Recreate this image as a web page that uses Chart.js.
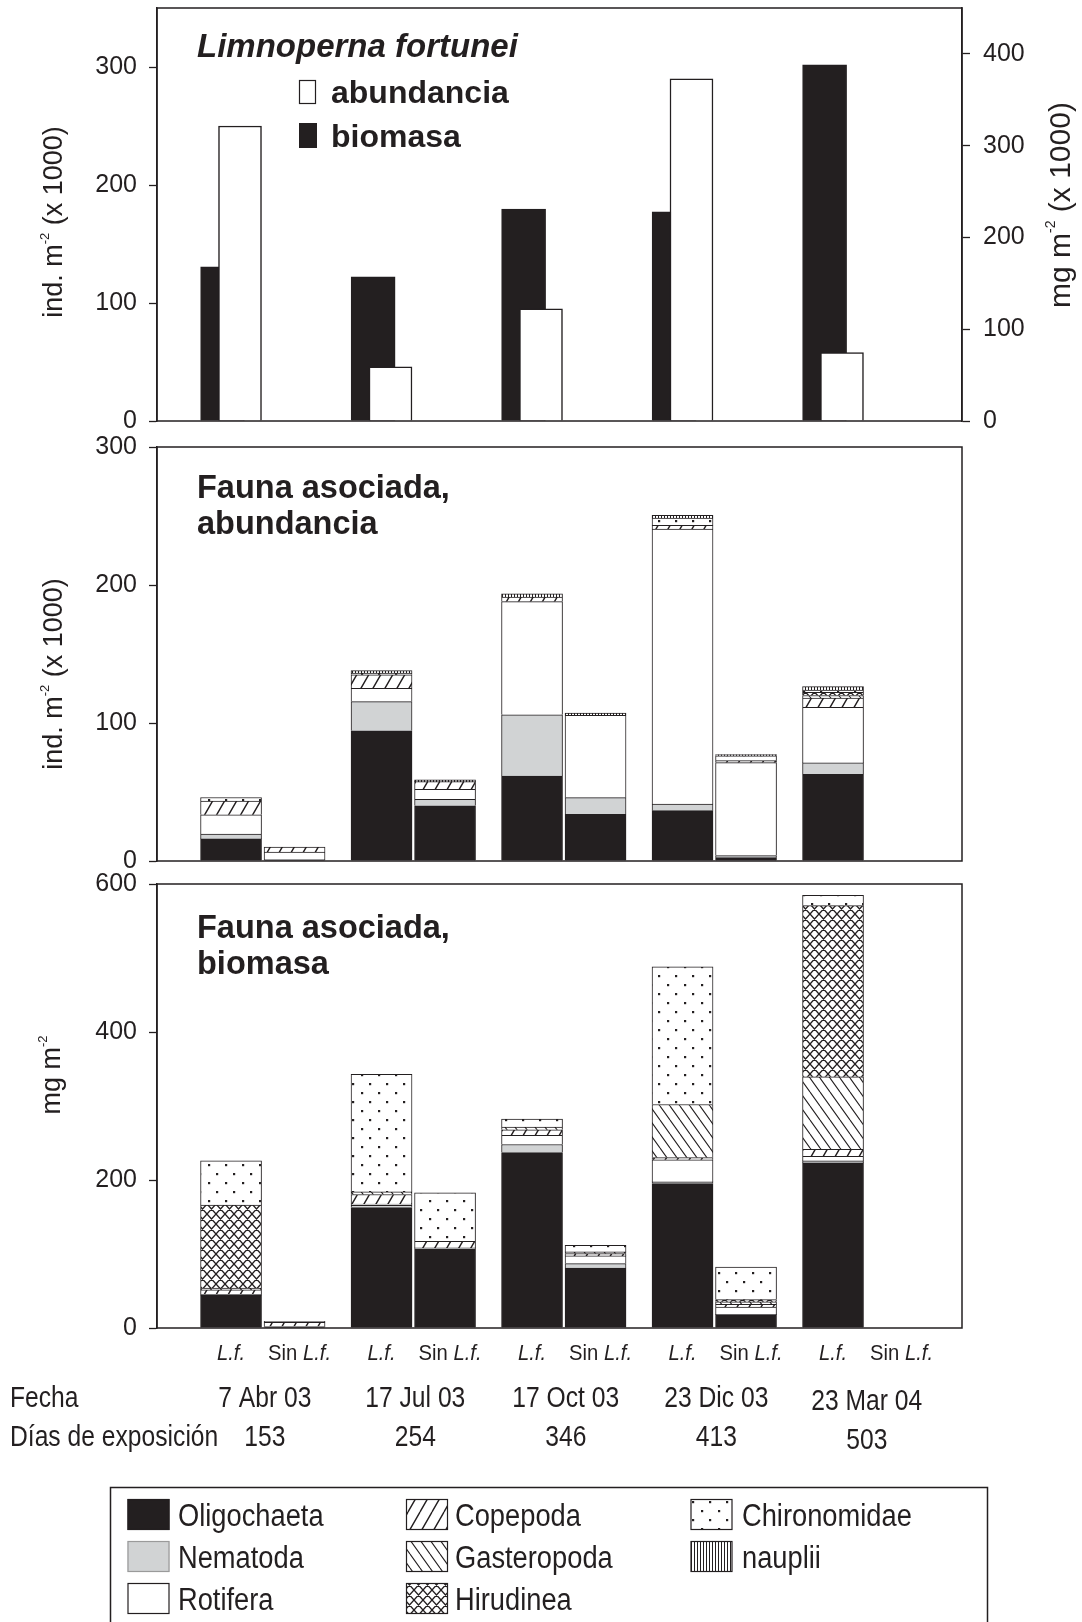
<!DOCTYPE html>
<html>
<head>
<meta charset="utf-8">
<script src="https://cdn.jsdelivr.net/npm/chart.js@4.4.1/dist/chart.umd.min.js"></script>
<style>
  html, body { margin: 0; padding: 0; background: #fff; }
  #wrap { position: relative; width: 1082px; height: 1622px; overflow: hidden; background: #fff; }
  #wrap canvas { position: absolute; left: 0; }
</style>
</head>
<body>
<div id="wrap">
  <canvas id="c1" width="1082" height="473" style="top:-22px;width:1082px;height:473px"></canvas>
  <canvas id="c2" width="1082" height="474" style="top:417px;width:1082px;height:474px"></canvas>
  <canvas id="c3" width="1082" height="616" style="top:854px;width:1082px;height:616px"></canvas>
  <canvas id="leg" width="1082" height="152" style="top:1470px;width:1082px;height:152px"></canvas>
</div>
<script>
// ---------------- DATA ----------------
const dates = ['7 Abr 03', '17 Jul 03', '17 Oct 03', '23 Dic 03', '23 Mar 04'];
const exposureDays = ['153', '254', '346', '413', '503'];
const treatments = ['L.f.', 'Sin L.f.'];

// Panel 1: Limnoperna fortunei
const limnoAbundance = [250, 46, 95, 290, 58];      // ind. m-2 (x 1000), left axis
const limnoBiomass   = [168, 157, 231, 228, 388];   // mg m-2 (x 1000), right axis

// Panel 2: fauna asociada, abundancia (ind. m-2 x 1000); order: L.f., Sin L.f. per date
const abOligochaeta   = [16, 0.7, 94.3, 40, 61.6, 33.8, 36.5, 2.4, 62.8, 0];
const abNematoda      = [3.5, 0.5, 21.2, 4.7, 44.3, 12.1, 4.8, 1.5, 8.3, 0];
const abRotifera      = [14, 5.3, 9.7, 7.3, 82.1, 59.7, 199.2, 67.4, 40.3, 0];
const abCopepoda      = [10, 3.5, 9.7, 5.5, 3.2, 0, 2.7, 1.4, 6.6, 0];
const abGasteropoda   = [0, 0, 0, 0, 0, 0, 0, 0, 1.9, 0];
const abHirudinea     = [0, 0, 0, 0, 0, 0, 0, 0, 2.4, 0];
const abChironomidae  = [2.5, 0, 1.2, 0, 0, 0, 5.3, 3.6, 1.5, 0];
const abNauplii       = [0, 0, 1.9, 1.3, 2.4, 1.5, 1.9, 0.8, 2.6, 0];

// Panel 3: fauna asociada, biomasa (mg m-2)
const bmOligochaeta   = [44, 1, 162.7, 106.4, 237, 81, 195.2, 18, 223.1, 0];
const bmNematoda      = [1.5, 0.5, 3.2, 1.8, 11, 6, 2.2, 0.4, 2.7, 0];
const bmRotifera      = [0, 0.5, 1.5, 0, 12.5, 10.4, 29.8, 10, 6.3, 0];
const bmCopepoda      = [6, 5.5, 13, 9, 7.3, 3.2, 3.1, 3.5, 9.5, 0];
const bmGasteropoda   = [2.5, 0, 3.5, 0, 3.6, 2.2, 71.7, 3.5, 97.8, 0];
const bmHirudinea     = [112, 0, 0, 0, 0, 0, 0, 3, 231.3, 0];
const bmChironomidae  = [60, 1.5, 159, 65.4, 10.8, 9, 186.2, 44, 13.9, 0];
const bmNauplii       = [0, 0, 0, 0, 0, 0, 0, 0, 0, 0];

const taxa = ['Oligochaeta', 'Nematoda', 'Rotifera', 'Copepoda', 'Gasteropoda', 'Hirudinea', 'Chironomidae', 'nauplii'];
const abundanceSeries = [abOligochaeta, abNematoda, abRotifera, abCopepoda, abGasteropoda, abHirudinea, abChironomidae, abNauplii];
const biomassSeries   = [bmOligochaeta, bmNematoda, bmRotifera, bmCopepoda, bmGasteropoda, bmHirudinea, bmChironomidae, bmNauplii];

// ---------------- STYLE / LAYOUT ----------------
const DARK = '#231f20';
const GRAY = '#d1d3d4';
const FONT = "'Liberation Sans', Arial, Helvetica, sans-serif";
const X_MIN = -0.703, X_MAX = 4.646;
const LF_OFF = -0.211, SIN_OFF = 0.211;
const BIO_OFF = -0.267, ABU_OFF = -0.1515;
const PAD = 30;
const slotX = (i) => Math.floor(i / 2) + (i % 2 === 0 ? LF_OFF : SIN_OFF);

// patterns
function tile(w, h, draw) {
  const c = document.createElement('canvas');
  c.width = w; c.height = h;
  const g = c.getContext('2d');
  g.fillStyle = '#fff'; g.fillRect(0, 0, w, h);
  g.strokeStyle = DARK; g.fillStyle = DARK;
  draw(g, w, h);
  return g.createPattern(c, 'repeat');
}
const patCopepoda = tile(12, 21, (g, w, h) => {
  g.lineWidth = 1.4; g.beginPath();
  for (const ox of [-w, 0, w]) { g.moveTo(ox, h); g.lineTo(ox + w, 0); }
  g.stroke();
});
const patGasteropoda = tile(10, 14, (g, w, h) => {
  g.lineWidth = 1.1; g.beginPath();
  for (const ox of [-w, 0, w]) { g.moveTo(ox, 0); g.lineTo(ox + w, h); }
  g.stroke();
});
const patHirudinea = tile(9, 10, (g, w, h) => {
  g.lineWidth = 1.35; g.beginPath();
  for (const ox of [-w, 0, w]) { g.moveTo(ox, 0); g.lineTo(ox + w, h); g.moveTo(ox, h); g.lineTo(ox + w, 0); }
  g.stroke();
});
const patChironomidae = tile(17, 18, (g) => {
  g.fillRect(4, 4, 2.2, 2.2); g.fillRect(12, 13, 2.2, 2.2);
});
const patNauplii = tile(3, 3, (g) => { g.fillRect(1, 0, 1, 3); });

const taxonFill = [DARK, GRAY, '#ffffff', patCopepoda, patGasteropoda, patHirudinea, patChironomidae, patNauplii];

// text helpers
function richText(ctx, parts, x, y, opts = {}) {
  const { rot = 0, align = 'left', sx = 1, baseline = 'alphabetic', color = DARK } = opts;
  ctx.save();
  ctx.translate(x, y);
  if (rot) ctx.rotate(rot);
  ctx.scale(sx, 1);
  ctx.textBaseline = baseline; ctx.textAlign = 'left'; ctx.fillStyle = color;
  let total = 0;
  parts.forEach(p => { ctx.font = p.font; p.w = ctx.measureText(p.t).width; total += p.w; });
  let cx = align === 'center' ? -total / 2 : (align === 'right' ? -total : 0);
  parts.forEach(p => { ctx.font = p.font; ctx.fillText(p.t, cx, p.dy || 0); cx += p.w; });
  ctx.restore();
}
const f = (size, style = '') => `${style} ${size}px ${FONT}`.trim();

function axisTitle(ctx, main, rest, cx, cy, size = 27) {
  richText(ctx, [
    { t: main, font: f(size) },
    { t: '-2', font: f(Math.round(size * 0.48)), dy: -size * 0.37 },
    { t: rest, font: f(size) }
  ], cx, cy, { rot: -Math.PI / 2, align: 'center', baseline: 'middle' });
}

function frame(chart) {
  const { ctx, chartArea: a } = chart;
  ctx.save();
  ctx.strokeStyle = DARK; ctx.lineWidth = 1.5;
  ctx.strokeRect(a.left, a.top, a.right - a.left, a.bottom - a.top);
  ctx.restore();
}

function yAxis(position, max, step, width) {
  return {
    position, min: 0, max,
    ticks: { stepSize: step, includeBounds: false, color: DARK, font: { family: FONT, size: 25 }, padding: position === 'left' ? 12 : 13 },
    grid: { drawOnChartArea: false, drawTicks: true, tickLength: 8, tickColor: DARK, tickWidth: 1.3, color: DARK },
    border: { display: true, color: DARK, width: 1.5 },
    afterFit: (s) => { s.width = width; }
  };
}
const xAxis = (stacked) => ({ type: 'linear', min: X_MIN, max: X_MAX, display: false, offset: false, stacked });

// ---------------- PANEL 1 ----------------
const TOP1 = -22;
new Chart(document.getElementById('c1'), {
  type: 'bar',
  data: {
    datasets: [
      { label: 'abundancia', yAxisID: 'y', data: limnoAbundance.map((v, i) => ({ x: i + ABU_OFF, y: v })),
        backgroundColor: '#ffffff', borderColor: DARK, borderWidth: 1.5, barThickness: 43, grouped: false },
      { label: 'biomasa', yAxisID: 'y1', data: limnoBiomass.map((v, i) => ({ x: i + BIO_OFF, y: v })),
        backgroundColor: DARK, borderColor: DARK, borderWidth: 1, barThickness: 44, grouped: false }
    ]
  },
  options: {
    responsive: false, animation: false, devicePixelRatio: 1,
    layout: { padding: { top: PAD, bottom: PAD, left: 0, right: 0 } },
    plugins: { legend: { display: false }, tooltip: { enabled: false } },
    scales: { x: xAxis(false), y: yAxis('left', 350, 100, 157), y1: yAxis('right', 450, 100, 120) }
  },
  plugins: [{
    id: 'deco1',
    afterDraw(chart) {
      const ctx = chart.ctx, o = -TOP1;
      frame(chart);
      richText(ctx, [{ t: 'Limnoperna fortunei', font: f(33, 'italic bold') }], 197, 57 + o);
      ctx.save();
      ctx.lineWidth = 1.2; ctx.strokeStyle = DARK;
      ctx.fillStyle = '#fff'; ctx.fillRect(299, 80 + o, 17, 24); ctx.strokeRect(299.5, 80.5 + o, 16, 23);
      ctx.fillStyle = DARK; ctx.fillRect(299, 123 + o, 18, 25);
      ctx.restore();
      richText(ctx, [{ t: 'abundancia', font: f(32, 'bold') }], 331, 103 + o);
      richText(ctx, [{ t: 'biomasa', font: f(32, 'bold') }], 331, 147 + o);
      axisTitle(ctx, 'ind. m', ' (x 1000)', 55, 222 + o);
      axisTitle(ctx, 'mg m', ' (x 1000)', 1062, 205 + o, 30);
    }
  }]
});

// ---------------- PANELS 2 & 3 ----------------
function stackedDatasets(series) {
  return series.map((vals, k) => ({
    label: taxa[k],
    data: vals.map((v, i) => ({ x: slotX(i), y: v })),
    backgroundColor: taxonFill[k],
    borderColor: DARK,
    borderWidth: 1,
    barThickness: 61
  }));
}

const TOP2 = 417;
new Chart(document.getElementById('c2'), {
  type: 'bar',
  data: { datasets: stackedDatasets(abundanceSeries) },
  options: {
    responsive: false, animation: false, devicePixelRatio: 1,
    layout: { padding: { top: PAD, bottom: PAD, left: 0, right: 120 } },
    plugins: { legend: { display: false }, tooltip: { enabled: false } },
    scales: { x: xAxis(true), y: Object.assign(yAxis('left', 300, 100, 157), { stacked: true }) }
  },
  plugins: [{
    id: 'deco2',
    afterDraw(chart) {
      const ctx = chart.ctx, o = -TOP2;
      frame(chart);
      richText(ctx, [{ t: 'Fauna asociada,', font: f(32.5, 'bold') }], 197, 498 + o);
      richText(ctx, [{ t: 'abundancia', font: f(32.5, 'bold') }], 197, 534 + o);
      axisTitle(ctx, 'ind. m', ' (x 1000)', 55, 674 + o);
    }
  }]
});

const TOP3 = 854;
new Chart(document.getElementById('c3'), {
  type: 'bar',
  data: { datasets: stackedDatasets(biomassSeries) },
  options: {
    responsive: false, animation: false, devicePixelRatio: 1,
    layout: { padding: { top: PAD, bottom: 142, left: 0, right: 120 } },
    plugins: { legend: { display: false }, tooltip: { enabled: false } },
    scales: { x: xAxis(true), y: Object.assign(yAxis('left', 600, 200, 157), { stacked: true }) }
  },
  plugins: [{
    id: 'deco3',
    afterDraw(chart) {
      const ctx = chart.ctx, o = -TOP3;
      const xs = chart.scales.x;
      frame(chart);
      richText(ctx, [{ t: 'Fauna asociada,', font: f(32.5, 'bold') }], 197, 938 + o);
      richText(ctx, [{ t: 'biomasa', font: f(32.5, 'bold') }], 197, 974 + o);
      axisTitle(ctx, 'mg m', '', 53, 1075 + o);
      // treatment labels
      for (let i = 0; i < 10; i++) {
        const px = xs.getPixelForValue(slotX(i));
        if (i % 2 === 0) {
          richText(ctx, [{ t: treatments[0], font: f(22, 'italic') }], px, 1360 + o, { align: 'center', sx: 0.92 });
        } else {
          richText(ctx, [{ t: 'Sin ', font: f(22) }, { t: treatments[0], font: f(22, 'italic') }], px + 5, 1360 + o, { align: 'center', sx: 0.92 });
        }
      }
      richText(ctx, [{ t: 'Fecha', font: f(29) }], 10, 1407 + o, { sx: 0.85 });
      richText(ctx, [{ t: 'Días de exposición', font: f(29) }], 10, 1446 + o, { sx: 0.85 });
      for (let g = 0; g < 5; g++) {
        const px = xs.getPixelForValue(g);
        const extra = g === 4 ? 3 : 0;
        richText(ctx, [{ t: dates[g], font: f(29) }], px + 2, 1407 + extra + o, { align: 'center', sx: 0.85 });
        richText(ctx, [{ t: exposureDays[g], font: f(29) }], px + 2, 1446 + extra + o, { align: 'center', sx: 0.85 });
      }
    }
  }]
});

// ---------------- LEGEND ----------------
(function drawLegend() {
  const cv = document.getElementById('leg');
  const ctx = cv.getContext('2d');
  const o = -1470;
  ctx.strokeStyle = DARK; ctx.lineWidth = 1.5;
  ctx.strokeRect(110.5, 1487.5 + o, 877, 200);
  const colX = [127.5, 406, 690.5];
  const labX = [178, 455, 742];
  const rowY = [1499, 1541, 1583];
  taxa.forEach((name, i) => {
    const col = Math.floor(i / 3), row = i % 3;
    const x = colX[col], y = rowY[row] + o;
    ctx.save();
    ctx.fillStyle = taxonFill[i];
    ctx.fillRect(x, y, 42, 31);
    ctx.strokeStyle = i === 1 ? '#9a9a9a' : DARK;
    ctx.lineWidth = 1.2;
    ctx.strokeRect(x + 0.5, y + 0.5, 41, 30);
    ctx.restore();
    richText(ctx, [{ t: name, font: f(31) }], labX[col], rowY[row] + 27 + o, { sx: 0.88 });
  });
})();
</script>
</body>
</html>
